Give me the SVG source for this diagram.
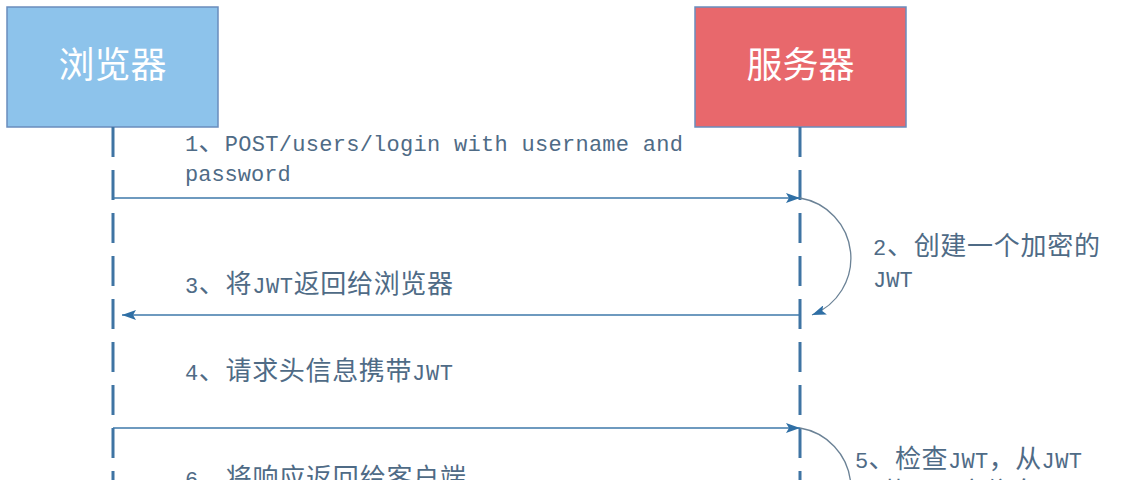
<svg xmlns="http://www.w3.org/2000/svg" width="1146" height="480" viewBox="0 0 1146 480">
<defs>
<style>
.box{stroke:#6a8dbd;stroke-width:1.5}
.lbl{font-family:"Noto Sans CJK SC",sans-serif;font-size:36px;fill:#ffffff;text-anchor:middle}
.life{stroke:#3f74a3;stroke-width:3;stroke-dasharray:30 13;fill:none}
.msg{stroke:#3e78aa;stroke-width:1.6;fill:none}
.self{stroke:#6b8296;stroke-width:1.3;fill:none}
.t{font-family:"Liberation Mono","Noto Sans CJK SC",monospace;font-size:22px;fill:#4f6b86}
.c{font-family:"Noto Sans CJK SC",sans-serif;font-size:26px}
</style>
<marker id="ah" viewBox="0 0 14 10" refX="14" refY="5" markerWidth="14" markerHeight="10" markerUnits="userSpaceOnUse" orient="auto">
<path d="M0,0 L14,5 L0,10 L3,5 Z" fill="#2f6fa5"/>
</marker>
</defs>
<rect width="1146" height="480" fill="#ffffff"/>
<g id="browser">
<rect class="box" x="7" y="7" width="211" height="120" fill="#8dc3eb"/>
<text class="lbl" x="112.5" y="78">浏览器</text>
</g>
<g id="server">
<rect class="box" x="695" y="7" width="211" height="120" fill="#e8686c"/>
<text class="lbl" x="800.5" y="78">服务器</text>
</g>
<g id="lifelines">
<line class="life" x1="113" y1="127" x2="113" y2="480"/>
<line class="life" x1="800" y1="127" x2="800" y2="480"/>
</g>
<g id="connectors">
<line class="msg" x1="113" y1="198" x2="800" y2="198" marker-end="url(#ah)"/>
<path class="self" d="M800,198 A61,61 0 0 1 812,315" marker-end="url(#ah)"/>
<line class="msg" x1="800" y1="315" x2="122" y2="315" marker-end="url(#ah)"/>
<line class="msg" x1="113" y1="428" x2="800" y2="428" marker-end="url(#ah)"/>
<path class="self" d="M800,428 A61,61 0 0 1 812,545"/>
</g>
<g id="labels">
<text class="t" x="185" y="151" textLength="498" lengthAdjust="spacing">1<tspan class="c">、</tspan>POST/users/login with username and</text>
<text class="t" x="185" y="181">password</text>
<text class="t" x="873" y="255" textLength="227" lengthAdjust="spacing">2<tspan class="c">、创建一个加密的</tspan></text>
<text class="t" x="873" y="287">JWT</text>
<text class="t" x="185" y="293" textLength="268" lengthAdjust="spacing">3<tspan class="c">、将</tspan>JWT<tspan class="c">返回给浏览器</tspan></text>
<text class="t" x="185" y="380" textLength="268" lengthAdjust="spacing">4<tspan class="c">、请求头信息携带</tspan>JWT</text>
<text class="t" x="855" y="468" textLength="227" lengthAdjust="spacing">5<tspan class="c">、检查</tspan>JWT<tspan class="c">，从</tspan>JWT</text>
<text class="t" x="855" y="501"><tspan class="c">里获取用户信息</tspan></text>
<text class="t" x="185" y="487" textLength="281" lengthAdjust="spacing">6<tspan class="c">、将响应返回给客户端</tspan></text>
</g>
</svg>
